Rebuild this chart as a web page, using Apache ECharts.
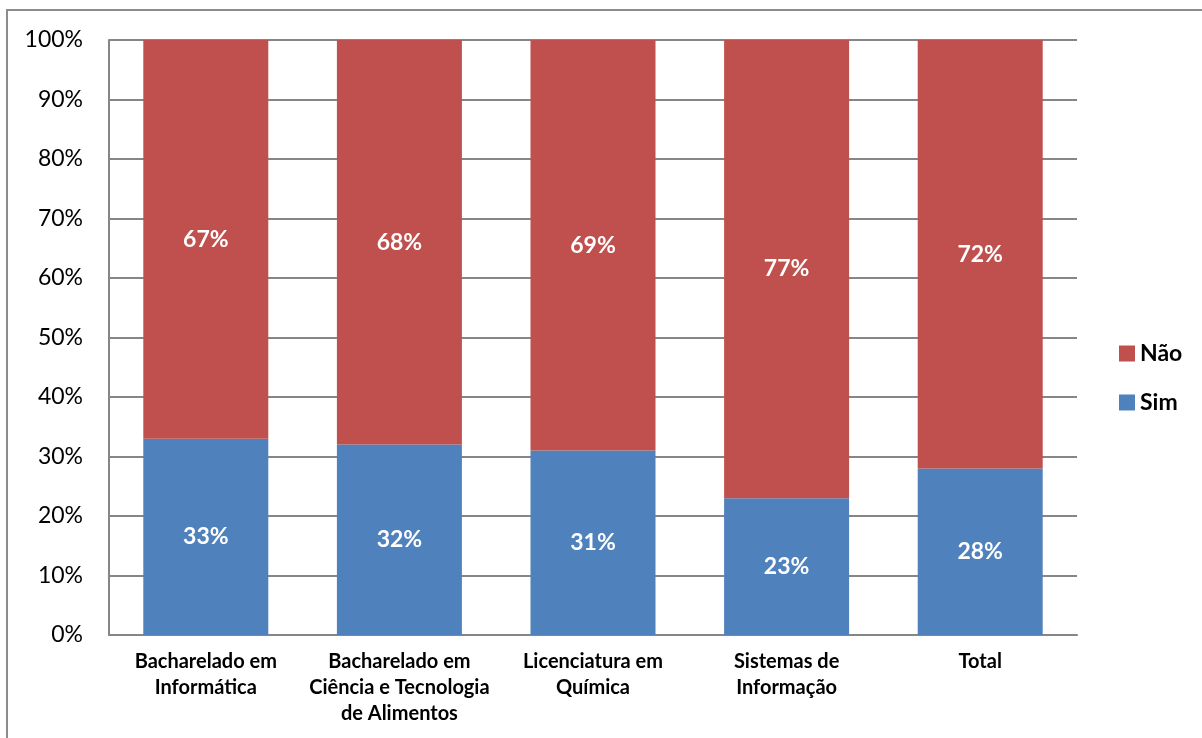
<!DOCTYPE html>
<html><head><meta charset="utf-8">
<script src="https://cdn.jsdelivr.net/npm/echarts@6/dist/echarts.min.js"></script>
<style>
html,body{margin:0;padding:0;background:#fff;overflow:hidden}
#frame{position:absolute;left:6px;top:9px;width:1300px;height:800px;border-left:2px solid #8c8c8c;border-top:2px solid #8c8c8c;box-sizing:border-box}
#c{position:absolute;left:0;top:0;width:1202px;height:738px}
</style></head>
<body>
<div id="frame"></div>
<div id="c"></div>
<script>
const categories = ['Bacharelado em\nInformática', 'Bacharelado em\nCiência e Tecnologia\nde Alimentos', 'Licenciatura em\nQuímica', 'Sistemas de\nInformação', 'Total'];
const simValues = [33, 32, 31, 23, 28];
const naoValues = [67, 68, 69, 77, 72];
const yTicks = [0, 10, 20, 30, 40, 50, 60, 70, 80, 90, 100];

const FONT = 'Lato, "Liberation Sans", sans-serif';
const chart = echarts.init(document.getElementById('c'), null, {renderer: 'canvas'});
const lbl = {show: true, position: 'inside', color: '#fff', fontWeight: 'bold', fontSize: 23, fontFamily: FONT, formatter: p => p.value + '%'};
chart.setOption({
  animation: false,
  backgroundColor: 'transparent',
  grid: {left: 109, top: 40, right: 125, bottom: 103, containLabel: false},
  legend: {
    left: 1119, top: 342, orient: 'vertical', itemGap: 26, padding: 0,
    itemWidth: 16, itemHeight: 16, icon: 'rect',
    data: ['Não', 'Sim'],
    textStyle: {fontFamily: FONT, fontSize: 23, fontWeight: 'bold', color: '#000'}
  },
  xAxis: {
    type: 'category', data: categories,
    axisLine: {show: true, lineStyle: {color: '#868686', width: 2}},
    axisTick: {show: false},
    axisLabel: {fontFamily: FONT, fontSize: 20, fontWeight: 'bold', color: '#000', lineHeight: 26, margin: 14, interval: 0}
  },
  yAxis: {
    type: 'value', min: 0, max: 100, interval: 10,
    axisLine: {show: true, lineStyle: {color: '#868686', width: 2}},
    axisTick: {show: false},
    splitLine: {show: true, lineStyle: {color: '#868686', width: 2}},
    axisLabel: {fontFamily: FONT, fontSize: 23, color: '#000', margin: 26, formatter: v => yTicks.includes(v) ? v + '%' : ''}
  },
  series: [
    {name: 'Sim', type: 'bar', stack: 't', data: simValues, barWidth: 125, itemStyle: {color: '#4F81BD'}, label: lbl},
    {name: 'Não', type: 'bar', stack: 't', data: naoValues, barWidth: 125, itemStyle: {color: '#C0504D'}, label: lbl}
  ]
});
</script>
</body></html>
